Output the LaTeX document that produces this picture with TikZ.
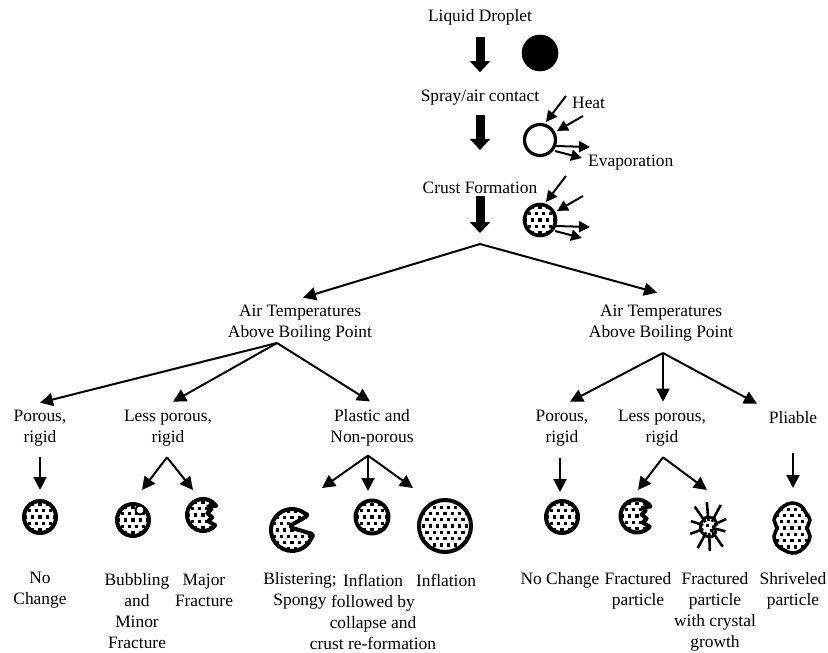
\documentclass[tikz,border=0pt]{standalone}
\usepackage{fontspec}
\setmainfont{Liberation Serif}
\usetikzlibrary{arrows.meta,calc}
\newcommand\stip[3]{%
  \foreach \i in {-#3,...,#3}{%
    \foreach \j in {-#3,...,#3}{%
      \fill ({#1+\i*7.2+mod(abs(\j),2)*3.6-1.6},{#2+\j*6.3-1.6}) rectangle ++(3.2,3.2);
    }}}
\newcommand\ppart[4]{%
  \begin{scope}\clip (#1,#2) circle (#3); \stip{#1}{#2}{#4}\end{scope}
  \draw[ptc] (#1,#2) circle (#3);}
\newcommand\fracpath[3]{(#1,#2) ++(-35:#3) arc[start angle=-35,end angle=-320,radius=#3] -- ++(-7,-4) -- ++(4,-4) -- ++(-5,-4) -- ++(4,-4) -- ++(-3,-3) -- cycle}
\begin{document}
\begin{tikzpicture}[x=1pt,y=-1pt,line join=round,
  txt/.style={font=\fontsize{17.4}{21}\selectfont, align=center, inner sep=0pt},
  arr/.style={line width=2pt, -{Triangle[length=13pt,width=13pt]}},
  harr/.style={line width=2pt, -{Triangle[length=11pt,width=11pt]}},
  bigarr/.style={line width=9pt, -{Triangle[length=11pt,width=20pt]}},
  ptc/.style={line width=4pt}]
\useasboundingbox (0,0) rectangle (828,653);

% top labels
\node[txt] (ld) at (480,17) {Liquid Droplet};
\node[txt] (sp) at (480,98) {Spray/air contact};
\node[txt] (cf) at (480,188) {Crust Formation};
\node[txt, anchor=west] (heat) at (572,103) {Heat};
\node[txt, anchor=west] (evap) at (588,163) {Evaporation};

% big arrows
\coordinate (s0) at (480,244);
\draw[bigarr, shorten <=12pt, shorten >=18pt] (ld.south) -- (sp.north);
\draw[bigarr, shorten <=9pt, shorten >=32pt] (sp.south) -- (cf.north);
\draw[bigarr, shorten <=2pt, shorten >=11pt] (cf.south) -- (s0);

% droplet stages
\coordinate (d1) at (540,53);
\coordinate (d2) at (540,140);
\coordinate (d3) at (540,220);
\fill (d1) circle (18.3);
\draw[line width=3.2pt] (d2) circle (15.5);
\begin{scope}\clip (540,220) circle (15.5); \stip{540}{220}{3}\end{scope}
\draw[line width=3.6pt] (d3) circle (15.5);
\foreach \c in {d2,d3}{
  \draw[harr] ($(\c)+(26,-44)$) -- ($(\c)+(6,-18)$);
  \draw[harr] ($(\c)+(43,-24)$) -- ($(\c)+(17,-9)$);
  \draw[harr] ($(\c)+(16,6)$) -- ($(\c)+(50,7)$);
  \draw[harr] ($(\c)+(15,11)$) -- ($(\c)+(42,18)$);
}

% second level
\node[txt] (atL) at (300,323) {Air Temperatures\\Above Boiling Point};
\node[txt] (atR) at (661,323) {Air Temperatures\\Above Boiling Point};
\draw[arr] (s0) -- ($(atL.north)+(3,-7)$);
\draw[arr] (s0) -- ($(atR.north)+(-4,-12)$);

% third level
\node[txt] (p1) at (40,428) {Porous,\\rigid};
\node[txt] (p2) at (168,428) {Less porous,\\rigid};
\node[txt] (p3) at (372,428) {Plastic and\\Non-porous};
\node[txt] (p4) at (562,428) {Porous,\\rigid};
\node[txt] (p5) at (662,428) {Less porous,\\rigid};
\node[txt] (p6) at (793,418) {Pliable};

\coordinate (b1) at (277,343);
\coordinate (b2) at (663,353);
\draw[arr] (b1) -- ($(p1.north)+(0,-7)$);
\draw[arr] (b1) -- ($(p2.north)+(5,-8)$);
\draw[arr] (b1) -- ($(p3.north)+(-2,-8)$);
\draw[arr] (b2) -- ($(p4.north)+(8,-8)$);
\draw[arr] (b2) -- ($(p5.north)+(1,-8)$);
\draw[arr] (b2) -- ($(p6.north)+(-36,-8)$);

% particle centres
\coordinate (a1) at (40,517);
\coordinate (a2) at (133,520);
\coordinate (a3) at (203,515);
\coordinate (a4) at (293,530);
\coordinate (a5) at (372,517);
\coordinate (a6) at (445,526);
\coordinate (a7) at (562,517);
\coordinate (a8) at (637,516);
\coordinate (a9) at (709,527);
\coordinate (a10) at (792,528);

% arrows to particles
\draw[arr] ($(p1.south)+(0,11)$) -- ($(a1)+(0,-27)$);
\coordinate (b3) at ($(p2.south)+(-1,11)$);
\draw[arr] (b3) -- ($(a2)+(9,-30)$);
\draw[arr] (b3) -- ($(a3)+(-10,-25)$);
\coordinate (b4) at ($(p3.south)+(-4,9)$);
\draw[arr] (b4) -- ($(a4)+(29,-42)$);
\draw[arr] (b4) -- ($(a5)+(-4,-26)$);
\draw[arr] (b4) -- ($(a6)+(-32,-38)$);
\draw[arr] ($(p4.south)+(-2,12)$) -- ($(a7)+(-2,-25)$);
\coordinate (b5) at ($(p5.south)+(1,11)$);
\draw[arr] (b5) -- ($(a8)+(1,-26)$);
\draw[arr] (b5) -- ($(a9)+(-2,-37)$);
\draw[arr] ($(p6.south)+(0,29)$) -- ($(a10)+(1,-40)$);

% particles
\ppart{40}{517}{16}{3}
\ppart{133}{520}{16}{3}
\filldraw[fill=white, line width=1.8pt] (140,510) circle (4.5);
\begin{scope}\clip \fracpath{203}{515}{16}; \stip{203}{515}{3}\end{scope}
\draw[ptc] \fracpath{203}{515}{16};
% blistering
\def\pac{(305.5,513.9) arc[start angle=-50,end angle=-335,radius=21] .. controls (314,536) and (313,533) .. (309,533) -- (294,528.5) .. controls (290,527.5) and (290,525) .. (293,524) -- (303,518.5) .. controls (308,516.5) and (308,513) .. (305.5,513.9) -- cycle}
\begin{scope}\clip \pac; \stip{292}{530}{4}\end{scope}
\draw[ptc] \pac;
\ppart{372}{517}{16.5}{3}
\ppart{445}{526}{26}{5}
\ppart{562}{517}{16}{3}
\begin{scope}\clip \fracpath{637}{516}{16.5}; \stip{637}{516}{3}\end{scope}
\draw[ptc] \fracpath{637}{516}{16.5};
% crystal
\begin{scope}[shift={(709,527)}]
  \filldraw[fill=white, line width=2.8pt] (-8,-4) -- (-3,-10) -- (5,-9) -- (8,-3) -- (4,0) -- (7,5) -- (3,10) -- (-4,9) -- (-9,3) -- cycle;
  \foreach \a/\l in {-125/25,-95/25,-62/25,-25/19,15/17,55/24,88/24,118/24,160/20,198/19}{
    \draw[line width=2.6pt] (\a:6) -- (\a:\l);}
  \fill (-3,-3) rectangle ++(3,3);
  \fill (1,2) rectangle ++(3,3);
\end{scope}
% shriveled
\def\blob{plot[smooth cycle, tension=0.7] coordinates {(792,503) (801,506) (806,513) (810,520) (807,528) (810,536) (807,544) (800,551) (792,553) (784,550) (777,545) (774,536) (777,528) (774,520) (778,512) (784,506)}}
\begin{scope}\clip \blob; \stip{792}{528}{5}\end{scope}
\draw[line width=3.6pt] \blob;

% bottom labels
\node[txt] (l1) at (40,590.5) {No\\Change};
\node[txt] (l2) at (137,611.5) {Bubbling\\and\\Minor\\Fracture};
\node[txt] (l3) at (204,590.5) {Major\\Fracture};
\node[txt] (l4) at (300,590.5) {Blistering;\\Spongy};
\node[txt] (l5) at (373,611.5) {Inflation\\followed by\\collapse and\\crust re-formation};
\node[txt] (l6) at (446,580) {Inflation};
\node[txt] (l7) at (560,580) {No Change};
\node[txt] (l8) at (638,590.5) {Fractured\\particle};
\node[txt] (l9) at (715,611.5) {Fractured\\particle\\with crystal\\growth};
\node[txt] (l10) at (793,590.5) {Shriveled\\particle};
\end{tikzpicture}
\end{document}
